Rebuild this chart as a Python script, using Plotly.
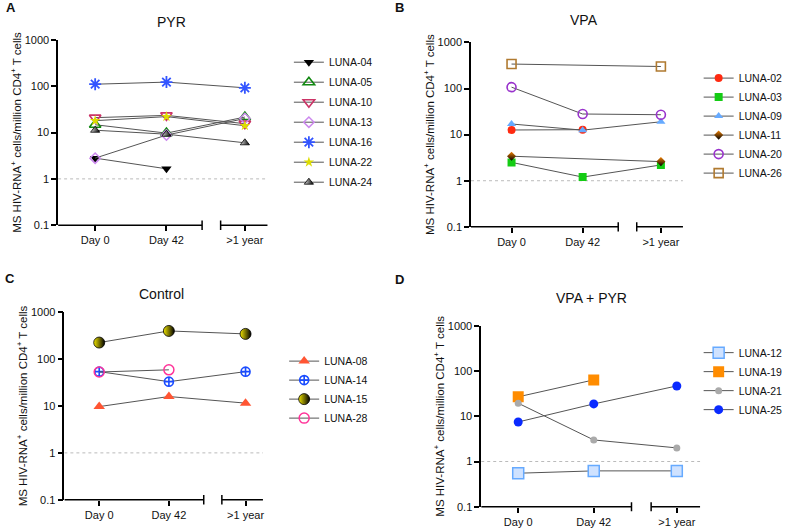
import plotly.graph_objects as go

# time points (x categories)
days = ["Day 0", "Day 42", ">1 year"]

# MS HIV-RNA+ cells / million CD4+ T cells, [Day 0, Day 42, >1 year]
# PYR
luna_04 = [2.8, 1.65, None]
luna_05 = [14.7, 9.7, 21.5]
luna_10 = [20.9, 23.4, 15.5]
luna_13 = [2.8, 8.8, 20]
luna_16 = [110, 122, 92]
luna_22 = [18, 22, 14]
luna_24 = [11.2, 9.2, 6.0]
# VPA
luna_02 = [12.6, 12.8, None]
luna_03 = [2.5, 1.2, 2.2]
luna_09 = [17, 12.5, 19]
luna_11 = [3.4, None, 2.6]
luna_20 = [107, 28, 27]
luna_26 = [339, None, 300]
# Control
luna_08 = [9.7, 15.9, 11.5]
luna_14 = [54, 33, 54]
luna_15 = [225, 398, 344]
luna_28 = [53, 59, None]
# VPA + PYR
luna_12 = [0.55, 0.62, 0.62]
luna_19 = [27, 64, None]
luna_21 = [19.5, 3.0, 2.0]
luna_25 = [7.5, 18.8, 47]

y_ticks = [0.1, 1, 10, 100, 1000]
y_labels = ["0.1", "1", "10", "100", "1000"]

pyr = [("LUNA-04", luna_04), ("LUNA-05", luna_05), ("LUNA-10", luna_10), ("LUNA-13", luna_13),
       ("LUNA-16", luna_16), ("LUNA-22", luna_22), ("LUNA-24", luna_24)]
vpa = [("LUNA-02", luna_02), ("LUNA-03", luna_03), ("LUNA-09", luna_09), ("LUNA-11", luna_11),
       ("LUNA-20", luna_20), ("LUNA-26", luna_26)]
control = [("LUNA-08", luna_08), ("LUNA-14", luna_14), ("LUNA-15", luna_15), ("LUNA-28", luna_28)]
combo = [("LUNA-12", luna_12), ("LUNA-19", luna_19), ("LUNA-21", luna_21), ("LUNA-25", luna_25)]

# marker styles
styles = {
    "LUNA-04": dict(symbol="triangle-down", size=9, color="black"),
    "LUNA-05": dict(symbol="triangle-up-open", size=10, color="#118811", line=dict(width=1.6, color="#118811")),
    "LUNA-10": dict(symbol="triangle-down-open", size=10, color="#cc3366", line=dict(width=1.6, color="#cc3366")),
    "LUNA-13": dict(symbol="diamond-open", size=8, color="#cc88ee", line=dict(width=1.5, color="#cc88ee")),
    "LUNA-16": dict(symbol="asterisk-open", size=10, color="#3355ff", line=dict(width=1.8, color="#3355ff")),
    "LUNA-22": dict(symbol="star", size=8, color="#dddd00", line=dict(width=0)),
    "LUNA-24": dict(symbol="triangle-up", size=8, color="#dddddd",
                    gradient=dict(type="horizontal", color="black"), line=dict(width=0.8, color="black")),
    "LUNA-02": dict(symbol="circle", size=8, color="#ff2a10"),
    "LUNA-03": dict(symbol="square", size=8, color="#14cc14"),
    "LUNA-09": dict(symbol="triangle-up", size=8, color="#66aaff"),
    "LUNA-11": dict(symbol="diamond", size=7, color="#f08000",
                    gradient=dict(type="vertical", color="black")),
    "LUNA-20": dict(symbol="circle-open", size=9, color="#9933cc", line=dict(width=1.6, color="#9933cc")),
    "LUNA-26": dict(symbol="square-open", size=9, color="#b07a30", line=dict(width=1.6, color="#b07a30")),
    "LUNA-08": dict(symbol="triangle-up", size=10, color="#ff5533"),
    "LUNA-14": dict(symbol="circle-cross-open", size=9, color="#1a4cff", line=dict(width=1.6, color="#1a4cff")),
    "LUNA-15": dict(symbol="circle", size=11, color="#f2e600",
                    gradient=dict(type="horizontal", color="black"), line=dict(width=0.8, color="black")),
    "LUNA-28": dict(symbol="circle-open", size=10, color="#ff3399", line=dict(width=1.5, color="#ff3399")),
    "LUNA-12": dict(symbol="square", size=11, color="#cfe2ff", line=dict(width=1.5, color="#66aaff")),
    "LUNA-19": dict(symbol="square", size=11, color="#ff8c00"),
    "LUNA-21": dict(symbol="circle", size=7, color="#aaaaaa"),
    "LUNA-25": dict(symbol="circle", size=9, color="#0a2aff"),
}

x_pos = [0, 1, 2.1]      # where the three time points sit on the axis
brk = (1.5, 1.76)         # axis break

# (letter, title, series, x domain, y domain, x range, legend x, legend y, legend gap, title x, title y)
panels = [
    ("A", "PYR", pyr, [0.074, 0.341], [0.575, 0.925], [-0.52, 2.42], 0.368, 0.910, 1, 0.219, 0.958),
    ("B", "VPA", vpa, [0.600, 0.870], [0.572, 0.920], [-0.57, 2.41], 0.890, 0.880, 0, 0.744, 0.962),
    ("C", "Control", control, [0.082, 0.335], [0.057, 0.411], [-0.50, 2.35], 0.362, 0.346, 0, 0.206, 0.445),
    ("D", "VPA + PYR", combo, [0.613, 0.892], [0.044, 0.385], [-0.49, 2.41], 0.890, 0.362, 0, 0.753, 0.438),
]

letter_pos = [(0.005, 0.985), (0.500, 0.985), (0.004, 0.475), (0.500, 0.472)]

fig = go.Figure()
layout = dict(
    template="none",
    width=785, height=530,
    margin=dict(l=0, r=0, t=0, b=0, autoexpand=False),
    paper_bgcolor="white", plot_bgcolor="white",
    font=dict(family="Liberation Sans, Arial, sans-serif", size=11, color="#111111"),
    showlegend=True,
    annotations=[], shapes=[],
)

for i, (letter, title, series, xd, yd, xr, lx, ly, gap, tx, ty) in enumerate(panels):
    ax = "" if i == 0 else str(i + 1)
    xa, ya, lg = "x" + ax, "y" + ax, "legend" + ax

    # dotted reference line at 1
    fig.add_trace(go.Scatter(x=[xr[0], xr[1]], y=[1, 1], mode="lines", xaxis=xa, yaxis=ya,
                             line=dict(color="#bbbbbb", width=1, dash="dot"),
                             showlegend=False, hoverinfo="skip"))
    for name, vals in series:
        fig.add_trace(go.Scatter(x=x_pos, y=vals, name=name, mode="lines+markers",
                                 connectgaps=True, xaxis=xa, yaxis=ya, legend=lg, legendgroup=name,
                                 line=dict(color="#555555", width=1),
                                 marker=styles[name]))

    layout["xaxis" + ax] = dict(domain=xd, range=xr, anchor=ya, tickvals=x_pos, ticktext=days,
                                showline=False, showgrid=False, zeroline=False, automargin=False,
                                ticks="outside", ticklen=5, tickwidth=1.5, tickcolor="black",
                                tickfont=dict(size=11))
    layout["yaxis" + ax] = dict(domain=yd, type="log", range=[-1, 3], anchor=xa,
                                tickvals=y_ticks, ticktext=y_labels, automargin=False,
                                showline=True, linewidth=1.5, linecolor="black",
                                showgrid=False, zeroline=False,
                                ticks="outside", ticklen=5, tickwidth=1.5, tickcolor="black",
                                tickfont=dict(size=11),
                                title=dict(text="MS HIV-RNA<sup>+</sup> cells/million CD4<sup>+</sup> T cells",
                                           font=dict(size=11.5), standoff=1))
    layout[lg] = dict(x=lx, y=ly, xanchor="left", yanchor="top", bgcolor="rgba(0,0,0,0)",
                      font=dict(size=10.5), itemwidth=30, tracegroupgap=gap)

    # broken x axis line
    dref = ya + " domain"
    for a, b in [(xr[0], brk[0]), (brk[1], xr[1])]:
        layout["shapes"].append(dict(type="line", xref=xa, yref=dref, x0=a, x1=b, y0=0, y1=0,
                                     line=dict(color="black", width=1.5)))
    for c in brk:
        layout["shapes"].append(dict(type="line", xref=xa, yref=dref, x0=c, x1=c, y0=-0.025, y1=0.025,
                                     line=dict(color="black", width=1.5)))

    layout["annotations"].append(dict(text=title, x=tx, y=ty, xref="paper", yref="paper",
                                      xanchor="center", yanchor="middle",
                                      showarrow=False, font=dict(size=14)))
    px_, py_ = letter_pos[i]
    layout["annotations"].append(dict(text="<b>" + letter + "</b>", x=px_, y=py_, xref="paper", yref="paper",
                                      xanchor="left", yanchor="middle", showarrow=False, font=dict(size=13)))

fig.update_layout(**layout)
# drop the browser's default body margin so the figure sits at the page origin
fig.write_html("out.html", config={"displayModeBar": False},
               post_script="document.body.style.margin='0';")
